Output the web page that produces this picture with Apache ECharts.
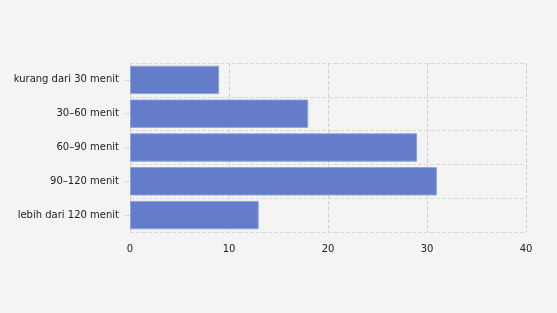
<!DOCTYPE html>
<html><head><meta charset="utf-8">
<script src="https://cdn.jsdelivr.net/npm/echarts@6/dist/echarts.min.js"></script>
<style>html,body{margin:0;padding:0;background:#f4f4f4;}#c{width:557px;height:313px;}</style>
</head><body><div id="c"></div>
<script>
var categories = ["kurang dari 30 menit", "30–60 menit", "60–90 menit", "90–120 menit", "lebih dari 120 menit"];
var values = [9, 18, 29, 31, 13];
var xTicks = [0, 10, 20, 30, 40];
var chart = echarts.init(document.getElementById('c'), null, {renderer: 'canvas'});
chart.setOption({
  backgroundColor: '#f4f4f4',
  animation: false,
  grid: {left: 130, right: 31, top: 63, bottom: 81},
  xAxis: {
    type: 'value', min: xTicks[0], max: xTicks[xTicks.length - 1], interval: 10,
    axisLine: {show: false}, axisTick: {show: false},
    axisLabel: {color: '#222', fontFamily: 'DejaVu Sans', fontSize: 10, margin: 12},
    splitLine: {show: true, lineStyle: {type: 'dashed', color: '#d0d0d0'}}
  },
  yAxis: {
    type: 'category', data: categories, inverse: true,
    axisLine: {show: true, lineStyle: {color: '#d8d8d8'}},
    axisTick: {show: true, alignWithLabel: true, length: 5, lineStyle: {color: '#d8d8d8'}},
    axisLabel: {color: '#222', fontFamily: 'DejaVu Sans', fontSize: 10, margin: 11},
    splitLine: {show: true, lineStyle: {type: 'dashed', color: '#d8d8d8'}}
  },
  series: [{
    type: 'bar', data: values, barCategoryGap: '16%',
    itemStyle: {color: 'rgba(84,112,198,0.9)', borderColor: 'rgba(140,160,225,0.9)', borderWidth: 1},
    z: 1
  }]
});
</script></body></html>
